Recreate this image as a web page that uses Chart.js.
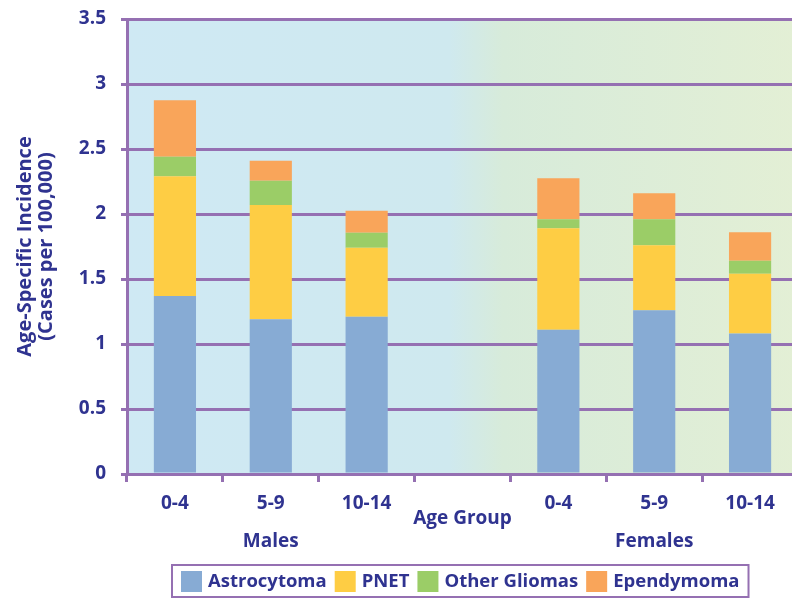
<!DOCTYPE html>
<html>
<head>
<meta charset="utf-8">
<script src="https://cdn.jsdelivr.net/npm/chart.js@4"></script>
<style>
  html, body { margin: 0; padding: 0; background: #fff; }
  #wrap { width: 792px; height: 599px; overflow: hidden; }
</style>
</head>
<body>
<div id="wrap"><canvas id="chart" width="800" height="599"></canvas></div>
<script>
// age groups, with an empty slot separating males and females
const ageGroups = ['0-4', '5-9', '10-14', '', '0-4', '5-9', '10-14'];
const sexGroups = [{ label: 'Males', at: 1 }, { label: 'Females', at: 5 }];

const astrocytoma = [1.37, 1.19, 1.21, null, 1.11, 1.26, 1.08];
const pnet        = [0.92, 0.88, 0.53, null, 0.78, 0.50, 0.46];
const otherGlioma = [0.15, 0.185, 0.115, null, 0.07, 0.20, 0.10];
const ependymoma  = [0.435, 0.155, 0.17, null, 0.315, 0.20, 0.22];

const yTicks = [0, 0.5, 1, 1.5, 2, 2.5, 3, 3.5];

const ink = '#2f3390';
const purple = '#9570b2';
const fontFamily = '"Open Sans", "DejaVu Sans", sans-serif';

const panelPlugin = {
  id: 'panel',
  beforeDraw(chart) {
    const { ctx, chartArea: a } = chart;
    const g = ctx.createLinearGradient(a.left, 0, a.right, 0);
    g.addColorStop(0, '#cfe9f4');
    g.addColorStop(0.48, '#cfe9ef');
    g.addColorStop(0.56, '#d7ebda');
    g.addColorStop(1, '#e3efd5');
    ctx.save();
    ctx.fillStyle = g;
    ctx.fillRect(a.left, a.top, a.right - a.left, a.bottom - a.top);
    ctx.restore();
  },
  afterDraw(chart) {
    const { ctx, chartArea: a } = chart;
    const x = chart.scales.x;
    ctx.save();
    ctx.fillStyle = ink;
    ctx.textAlign = 'center';
    ctx.textBaseline = 'middle';

    // y axis title, two rotated lines
    ctx.font = 'bold 20px ' + fontFamily;
    ctx.save();
    ctx.translate(25, (a.top + a.bottom) / 2);
    ctx.rotate(-Math.PI / 2);
    ctx.fillText('Age-Specific Incidence', 0, 0);
    ctx.fillText('(Cases per 100,000)', 0, 21);
    ctx.restore();

    // x title and sex group labels
    ctx.font = 'bold 19px ' + fontFamily;
    ctx.fillText('Age Group', x.getPixelForValue(3), 519);
    sexGroups.forEach(s => ctx.fillText(s.label, x.getPixelForValue(s.at), 542));

    // legend box
    ctx.font = 'bold 18.5px ' + fontFamily;
    const items = chart.data.datasets;
    const sw = 21, gap = 6, space = 8, padX = 9;
    ctx.textAlign = 'left';
    const widths = items.map(d => sw + gap + ctx.measureText(d.label).width);
    const total = widths.reduce((s, w) => s + w, 0) + space * (items.length - 1) + padX * 2;
    const left = 172, top = 565, h = 32;
    ctx.strokeStyle = purple;
    ctx.lineWidth = 2;
    ctx.fillStyle = '#fff';
    ctx.fillRect(left, top, total, h);
    ctx.strokeRect(left, top, total, h);
    let cx = left + padX;
    items.forEach((d, i) => {
      ctx.fillStyle = d.backgroundColor;
      ctx.fillRect(cx, top + 6, sw, sw);
      ctx.fillStyle = ink;
      ctx.fillText(d.label, cx + sw + gap, top + h / 2 + 1);
      cx += widths[i] + space;
    });
    ctx.restore();
  }
};

new Chart(document.getElementById('chart'), {
  type: 'bar',
  data: {
    labels: ageGroups,
    datasets: [
      { label: 'Astrocytoma', data: astrocytoma, backgroundColor: '#87abd4' },
      { label: 'PNET', data: pnet, backgroundColor: '#fecd44' },
      { label: 'Other Gliomas', data: otherGlioma, backgroundColor: '#9bcd67' },
      { label: 'Ependymoma', data: ependymoma, backgroundColor: '#f9a55a' }
    ]
  },
  options: {
    responsive: false,
    animation: false,
    layout: { padding: { top: 19, right: 2, left: 0, bottom: 0 } },
    datasets: { bar: { barPercentage: 0.44, categoryPercentage: 1 } },
    plugins: { legend: { display: false }, tooltip: { enabled: false } },
    scales: {
      x: {
        stacked: true,
        afterFit(s) { s.height = 125; },
        grid: { offset: true, drawOnChartArea: false, color: purple, lineWidth: 3, tickLength: 8 },
        border: { color: purple, width: 3 },
        ticks: { color: ink, padding: 10, font: { family: fontFamily, size: 19, weight: 'bold' } }
      },
      y: {
        stacked: true,
        min: 0,
        max: 3.5,
        afterFit(s) {
          s.width = 127;
          s.paddingTop = 0;
          s.paddingBottom = 0;
        },
        afterBuildTicks(s) { s.ticks = yTicks.map(v => ({ value: v })); },
        grid: { color: purple, lineWidth: 3, tickLength: 6 },
        border: { color: purple, width: 3 },
        ticks: {
          color: ink,
          padding: 15,
          font: { family: fontFamily, size: 19, weight: 'bold' },
          callback: v => String(v)
        }
      }
    }
  },
  plugins: [panelPlugin]
});
</script>
</body>
</html>
